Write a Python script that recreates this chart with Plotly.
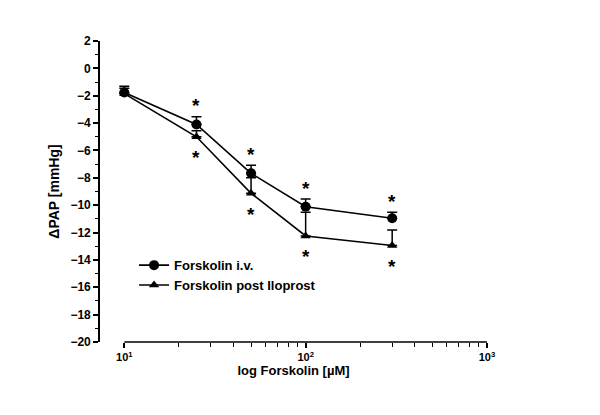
import math
import plotly.graph_objects as go

# Data
dose = [10, 25, 50, 100, 300]
iv_mean = [-1.77, -4.10, -7.67, -10.11, -10.96]
iv_sem = [0.46, 0.56, 0.58, 0.56, 0.44]
ilo_mean = [-1.85, -5.00, -9.13, -12.25, -12.95]
ilo_sem = [0.40, 0.44, 1.14, 1.73, 1.14]
sig_points = [25, 50, 100, 300]
y_ticks = list(range(-20, 3, 2))
x_ticks = [10, 100, 1000]
x_ticktext = ["10<sup>1</sup>", "10<sup>2</sup>", "10<sup>3</sup>"]
x_minor = [20, 30, 40, 50, 60, 70, 80, 90, 200, 300, 400, 500, 600, 700, 800, 900]

FONT = "Arial, Liberation Sans, sans-serif"
xr = [0.866, 3.0]

fig = go.Figure()
fig.add_trace(go.Scatter(
    x=dose, y=iv_mean, mode="lines+markers", name="Forskolin i.v.",
    line=dict(color="black", width=1.6),
    marker=dict(symbol="circle", size=10, color="black"),
    error_y=dict(type="data", array=iv_sem, arrayminus=[0]*len(iv_sem),
                 symmetric=False, color="black", thickness=1.5, width=5),
))
fig.add_trace(go.Scatter(
    x=dose, y=ilo_mean, mode="lines+markers", name="Forskolin post Iloprost",
    line=dict(color="black", width=1.6),
    marker=dict(symbol="triangle-up", size=9, color="black"),
    error_y=dict(type="data", array=ilo_sem, arrayminus=[0]*len(ilo_sem),
                 symmetric=False, color="black", thickness=1.5, width=5),
))

annotations = []
for d in sig_points:
    i = dose.index(d)
    annotations.append(dict(x=math.log10(d), y=iv_mean[i] + iv_sem[i], xref="x", yref="y",
                            text="*", showarrow=False, yshift=11,
                            font=dict(family=FONT, size=19, color="black", weight="bold")))
    annotations.append(dict(x=math.log10(d), y=ilo_mean[i], xref="x", yref="y",
                            text="*", showarrow=False, yshift=-21,
                            font=dict(family=FONT, size=19, color="black", weight="bold")))

# x axis line starting at 10^1
x0p = (1 - xr[0]) / (xr[1] - xr[0])
shapes = [dict(type="line", xref="paper", yref="paper", x0=x0p, x1=1.0, y0=0, y1=0,
               line=dict(color="black", width=1.6))]

fig.update_layout(
    width=600, height=415,
    margin=dict(l=92, r=121, t=33, b=81),
    paper_bgcolor="white", plot_bgcolor="white",
    font=dict(family=FONT, color="black"),
    showlegend=True,
    legend=dict(x=0.088, y=0.305, xanchor="left", yanchor="top",
                bgcolor="rgba(0,0,0,0)", font=dict(family=FONT, size=13, weight="bold"),
                tracegroupgap=0, itemwidth=30),
    annotations=annotations,
    shapes=shapes,
    xaxis=dict(
        type="log", range=xr, showgrid=False, zeroline=False, showline=False,
        tickmode="array", tickvals=x_ticks, ticktext=x_ticktext,
        ticks="outside", ticklen=5, tickwidth=1.5, tickcolor="black",
        tickfont=dict(family=FONT, size=11, weight="bold"),
        minor=dict(tickmode="array", tickvals=x_minor, ticks="outside", ticklen=4,
                   tickwidth=1.2, tickcolor="black", showgrid=False),
        title=dict(text="log Forskolin [µM]", font=dict(family=FONT, size=13, weight="bold"),
                   standoff=2),
    ),
    yaxis=dict(
        range=[-20, 2], showgrid=False, zeroline=False, showline=True,
        linecolor="black", linewidth=1.6,
        tickmode="array", tickvals=y_ticks,
        ticks="outside", ticklen=5, tickwidth=1.5, tickcolor="black",
        tickfont=dict(family=FONT, size=12, weight="bold"),
        minor=dict(dtick=1, ticks="outside", ticklen=3, tickwidth=1.2, tickcolor="black",
                   showgrid=False),
        title=dict(text="ΔPAP [mmHg]", font=dict(family=FONT, size=14, weight="bold"),
                   standoff=8),
    ),
)

fig.write_html("out.html")
